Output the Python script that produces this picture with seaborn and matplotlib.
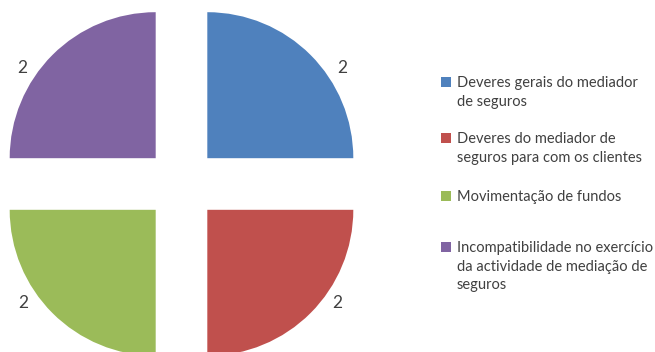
import matplotlib
matplotlib.use("Agg")
import matplotlib.pyplot as plt
import seaborn as sns
from matplotlib.patches import Rectangle

sns.set_theme(style="white")
plt.rcParams["font.family"] = ["Lato", "DejaVu Sans"]

categories = [
    "Deveres gerais do mediador\nde seguros",
    "Deveres do mediador de\nseguros para com os clientes",
    "Movimentação de fundos",
    "Incompatibilidade no exercício\nda actividade de mediação de\nseguros",
]
values = [2, 2, 2, 2]
colors = ["#4F81BD", "#C0504D", "#9BBB59", "#8064A2"]

W, H = 655, 352
fig = plt.figure(figsize=(W / 100, H / 100), dpi=100)
fig.patch.set_facecolor("white")

# pie area: unit radius = 146 px, centre of the exploded pie at (181.5, 184) px from top-left
R = 146.0
cx, cy = 181.5, 184.0
ax_w = 363.0
ax = fig.add_axes([0, 0, ax_w / W, 1])
wedges, texts = ax.pie(
    values,
    colors=colors,
    startangle=90,
    counterclock=False,
    explode=[0.25] * len(values),
    labels=[str(v) for v in values],
    wedgeprops=dict(linewidth=0),
    textprops=dict(color="#404040", fontsize=12.5),
)
ax.set_aspect("auto")
ax.set_xlim(-cx / R, (ax_w - cx) / R)
ax.set_ylim(-(H - cy) / R, cy / R)
ax.axis("off")

# value label placement around each slice
label_pos = [(1.103, 0.795), (1.065, -0.815), (-1.085, -0.815), (-1.091, 0.795)]
for t, (x, y) in zip(texts, label_pos):
    t.set_position((x, y))
    t.set_ha("center")
    t.set_va("center")

# legend: colour square next to the first line of each entry
sq_tops = [77, 133, 191, 242]
for label, col, top in zip(categories, colors, sq_tops):
    fig.patches.append(
        Rectangle((441 / W, 1 - (top + 10) / H), 10 / W, 10 / H,
                  transform=fig.transFigure, facecolor=col, edgecolor="none")
    )
    fig.text(457 / W, 1 - (top - 1) / H, label, ha="left", va="top",
             fontsize=10.5, color="#404040", linespacing=1.42)

fig.savefig("out.png", dpi=100, facecolor="white")
